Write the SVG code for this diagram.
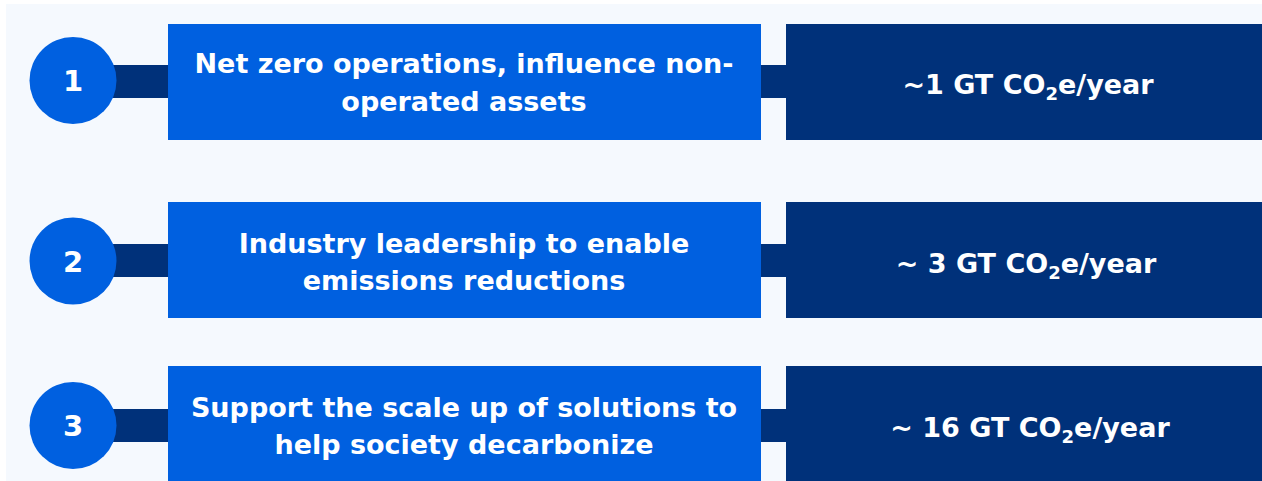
<svg xmlns="http://www.w3.org/2000/svg" width="1262" height="481" viewBox="0 0 1262 481">
<style>
.bg{fill:#F5F9FE}
.bar{fill:#00317A}
.blue{fill:#0060E0}
.navy{fill:#00317A}
.t{font-family:"DejaVu Sans",Verdana,sans-serif;font-weight:bold;fill:#FFFFFF;text-anchor:middle}
.main{font-size:27px}
.num{font-size:29px}
.val{font-size:27px}
.sub{font-size:18px}
</style>
<rect class="bg" x="6" y="4" width="1256" height="477"/>
<g id="connectors">
<rect class="bar" x="110" y="65" width="60" height="33"/>
<rect class="bar" x="758" y="65" width="30" height="33"/>
<rect class="bar" x="110" y="244" width="60" height="33"/>
<rect class="bar" x="758" y="244" width="30" height="33"/>
<rect class="bar" x="110" y="409" width="60" height="33"/>
<rect class="bar" x="758" y="409" width="30" height="33"/>
</g>
<g id="step1">
<circle class="blue" cx="73" cy="80.5" r="43.5"/>
<text class="t num" x="73" y="91">1</text>
</g>
<g id="box1">
<rect class="blue" x="168" y="24" width="593" height="116"/>
<text class="t main" x="464" y="73">Net zero operations, influence non-</text>
<text class="t main" x="464" y="111">operated assets</text>
</g>
<g id="value1">
<rect class="navy" x="786" y="24" width="476" height="116"/>
<text class="t val" x="1028" y="94">~1 GT CO<tspan class="sub" dy="6">2</tspan><tspan dy="-6">e/year</tspan></text>
</g>
<g id="step2">
<circle class="blue" cx="73" cy="261" r="43.5"/>
<text class="t num" x="73" y="272">2</text>
</g>
<g id="box2">
<rect class="blue" x="168" y="202" width="593" height="116"/>
<text class="t main" x="464" y="253">Industry leadership to enable</text>
<text class="t main" x="464" y="290">emissions reductions</text>
</g>
<g id="value2">
<rect class="navy" x="786" y="202" width="476" height="116"/>
<text class="t val" x="1026" y="273">~ 3 GT CO<tspan class="sub" dy="6">2</tspan><tspan dy="-6">e/year</tspan></text>
</g>
<g id="step3">
<circle class="blue" cx="73" cy="425.5" r="43.5"/>
<text class="t num" x="73" y="436">3</text>
</g>
<g id="box3">
<rect class="blue" x="168" y="366" width="593" height="115"/>
<text class="t main" x="464" y="417">Support the scale up of solutions to</text>
<text class="t main" x="464" y="454">help society decarbonize</text>
</g>
<g id="value3">
<rect class="navy" x="786" y="366" width="476" height="115"/>
<text class="t val" x="1030" y="437">~ 16 GT CO<tspan class="sub" dy="6">2</tspan><tspan dy="-6">e/year</tspan></text>
</g>
</svg>
